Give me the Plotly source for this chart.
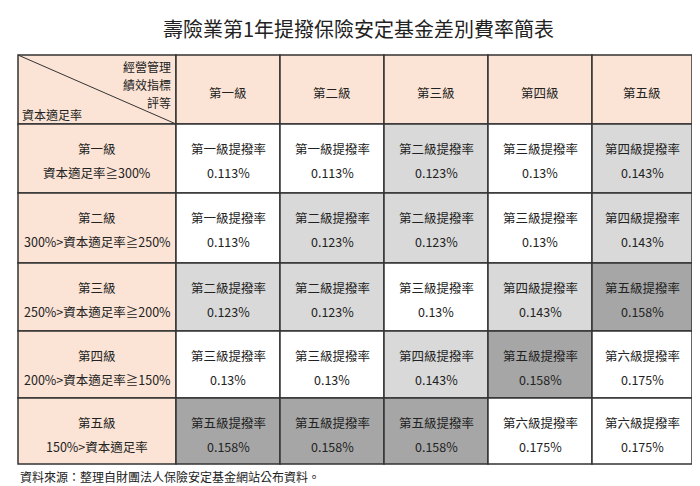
import plotly.graph_objects as go

title = "壽險業第1年提撥保險安定基金差別費率簡表"
col_labels = ["第一級", "第二級", "第三級", "第四級", "第五級"]
row_labels = [("第一級", "資本適足率≧300%"),
              ("第二級", "300%>資本適足率≧250%"),
              ("第三級", "250%>資本適足率≧200%"),
              ("第四級", "200%>資本適足率≧150%"),
              ("第五級", "150%>資本適足率")]
level_names = ["", "第一級", "第二級", "第三級", "第四級", "第五級", "第六級"]
rates = {1: "0.113%", 2: "0.123%", 3: "0.13%", 4: "0.143%", 5: "0.158%", 6: "0.175%"}
grid = [[1, 1, 2, 3, 4],
        [1, 2, 2, 3, 4],
        [2, 2, 3, 4, 5],
        [3, 3, 4, 5, 6],
        [5, 5, 5, 6, 6]]
source = "資料來源：整理自財團法人保險安定基金網站公布資料。"

shade = {1: "white", 2: "#d9d9d9", 3: "white", 4: "#d9d9d9", 5: "#a6a6a6", 6: "white"}
peach = "#fbe4d5"
xs = [10, 168, 272, 376, 480, 584, 684]
ys = [47, 116, 185, 255, 323, 390, 456]
font = "Noto Sans CJK TC"
tc = "#222"

fig = go.Figure()
fig.add_trace(go.Scatter(x=[0, 700], y=[0, 486], mode="markers", marker=dict(opacity=0), hoverinfo="skip"))
shapes, ann = [], []

def rect(x0, x1, y0, y1, fill):
    shapes.append(dict(type="rect", xref="x", yref="y", x0=x0, x1=x1, y0=y0, y1=y1,
                       fillcolor=fill, line=dict(color="#333", width=1.5), layer="below"))

def text(x, y, t, size=12.5, xa="center"):
    ann.append(dict(x=x, y=y, xref="x", yref="y", text=t, showarrow=False, xanchor=xa,
                    font=dict(family=font, size=size, color=tc)))

rect(xs[0], xs[1], ys[0], ys[1], peach)
shapes.append(dict(type="line", xref="x", yref="y", x0=xs[0], y0=ys[0], x1=xs[1], y1=ys[1],
                   line=dict(color="#333", width=1)))
text(165, 58, "經營管理", 12, "right")
text(165, 76, "績效指標", 12, "right")
text(165, 94, "評等", 12, "right")
text(12, 106, "資本適足率", 12, "left")
for j, c in enumerate(col_labels):
    rect(xs[j+1], xs[j+2], ys[0], ys[1], peach)
    text((xs[j+1]+xs[j+2])/2, 84, c)
for i, (a, b) in enumerate(row_labels):
    y0, y1 = ys[i+1], ys[i+2]
    rect(xs[0], xs[1], y0, y1, peach)
    text((xs[0]+xs[1])/2, y0+24, a)
    text((xs[0]+xs[1])/2, y0+48, b)
    for j, lv in enumerate(grid[i]):
        rect(xs[j+1], xs[j+2], y0, y1, shade[lv])
        text((xs[j+1]+xs[j+2])/2, y0+24, level_names[lv] + "提撥率")
        text((xs[j+1]+xs[j+2])/2, y0+48, rates[lv])
text(350, 20, title, 20)
text(10, 468, source, 12, "left")

fig.update_layout(width=700, height=486, margin=dict(l=0, r=0, t=0, b=0),
                  plot_bgcolor="white", paper_bgcolor="white", showlegend=False,
                  shapes=shapes, annotations=ann,
                  xaxis=dict(range=[0, 700], visible=False, fixedrange=True),
                  yaxis=dict(range=[486, 0], visible=False, fixedrange=True))
fig.write_html("out.html")
